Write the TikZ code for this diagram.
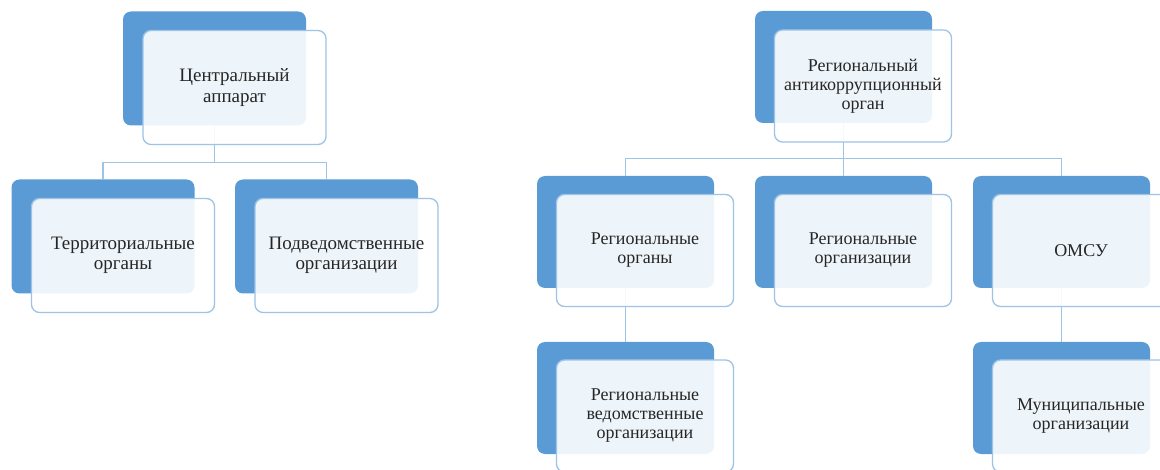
\documentclass[tikz,border=0pt]{standalone}
\usepackage{fontspec}
\setmainfont{Liberation Serif}
\usetikzlibrary{calc}

\definecolor{fon}{HTML}{5B9BD5}
\definecolor{kant}{HTML}{9DC3E6}
\definecolor{tekst}{HTML}{262626}

\begin{document}
\begin{tikzpicture}[x=1pt,y=-1pt,
  backbox/.style={fill=fon, rounded corners=8pt, inner sep=0pt,
    minimum width=183pt, minimum height=114pt},
  frontbox/.style={draw=kant, line width=1.3pt, fill=white, fill opacity=0.9,
    text opacity=1, rounded corners=8pt, inner sep=0pt, align=center,
    text=tekst, font=\fontsize{19}{20.5}\selectfont,
    minimum width=183pt, minimum height=114pt},
  link/.style={draw=kant, line width=1.3pt}]
  \useasboundingbox (0,0) rectangle (1160,470);
  \clip (0,0) rectangle (1160,470);

  % левая схема: подложки
  \node[backbox] (ca-b) at (214.5,68.5) {};
  \node[backbox] (to-b) at (103,236.5) {};
  \node[backbox] (po-b) at (326.5,236.5) {};

  % правая схема: подложки
  \begin{scope}[backbox/.append style={minimum width=177pt, minimum height=112pt}]
    \node[backbox] (rao-b) at (843.5,67) {};
    \node[backbox] (ro-b) at (625.5,232) {};
    \node[backbox] (rorg-b) at (843.5,232) {};
    \node[backbox] (omsu-b) at (1061.5,232) {};
    \node[backbox] (rvo-b) at (625.5,398) {};
    \node[backbox] (mo-b) at (1061.5,398) {};
  \end{scope}

  % связи
  \draw[link] (ca-b.south) -- ++(0,37) -| (to-b.north);
  \draw[link] (ca-b.south) -- ++(0,37) -| (po-b.north);
  \draw[link] (rao-b.south) -- ++(0,35) -| (ro-b.north);
  \draw[link] (rao-b.south) -- (rorg-b.north);
  \draw[link] (rao-b.south) -- ++(0,35) -| (omsu-b.north);
  \draw[link] (ro-b.south) -- (rvo-b.north);
  \draw[link] (omsu-b.south) -- (mo-b.north);

  % левая схема: блоки с текстом
  \node[frontbox] (ca) at ($(ca-b)+(20,19)$) {Центральный\\аппарат};
  \node[frontbox] (to) at ($(to-b)+(20,19)$) {Территориальные\\органы};
  \node[frontbox] (po) at ($(po-b)+(20,19)$) {Подведомственные\\организации};

  % правая схема: блоки с текстом
  \begin{scope}[frontbox/.append style={minimum width=177pt, minimum height=112pt,
      font=\fontsize{18}{19}\selectfont}]
    \node[frontbox] (rao) at ($(rao-b)+(19.5,19)$) {Региональный\\антикоррупционный\\орган};
    \node[frontbox] (ro) at ($(ro-b)+(19.5,18.5)$) {Региональные\\органы};
    \node[frontbox] (rorg) at ($(rorg-b)+(19.5,18.5)$) {Региональные\\организации};
    \node[frontbox] (omsu) at ($(omsu-b)+(19.5,18.5)$) {ОМСУ};
    \node[frontbox] (rvo) at ($(rvo-b)+(19.5,18)$) {Региональные\\ведомственные\\организации};
    \node[frontbox] (mo) at ($(mo-b)+(19.5,18)$) {Муниципальные\\организации};
  \end{scope}
\end{tikzpicture}
\end{document}
